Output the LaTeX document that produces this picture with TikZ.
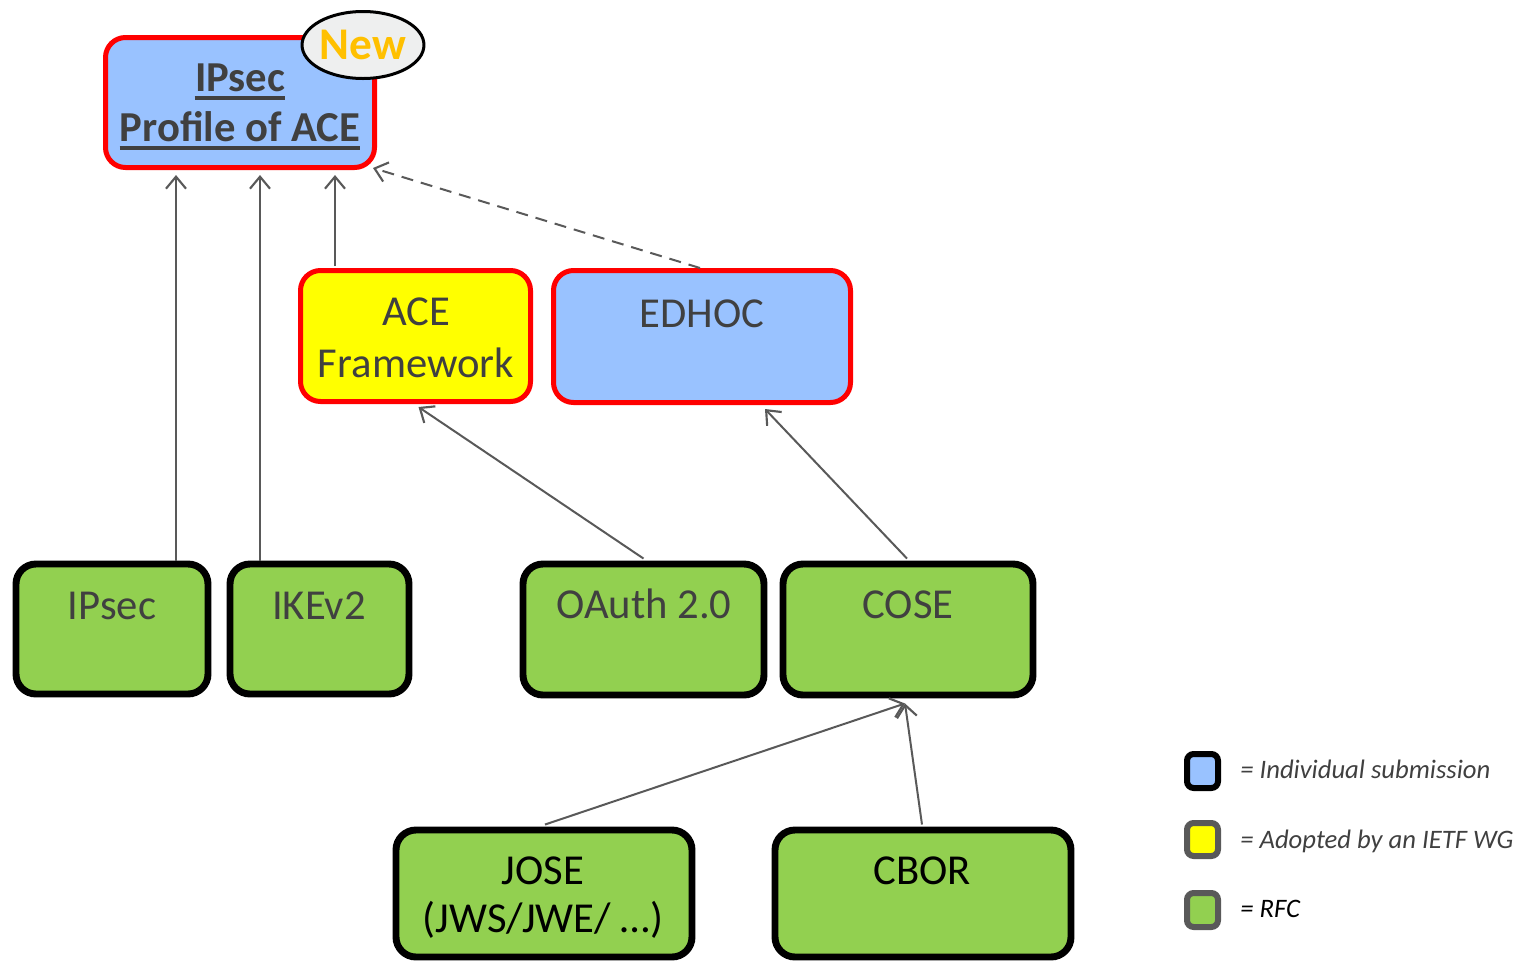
\documentclass[tikz,border=0pt]{standalone}
\usepackage{fontspec}
\setmainfont{Carlito}
\usetikzlibrary{arrows.meta,fit,shapes.geometric,calc}
\definecolor{txtgray}{HTML}{404040}
\definecolor{arrgray}{HTML}{595959}
\definecolor{bluefill}{HTML}{99C2FF}
\definecolor{yellowfill}{HTML}{FFFF00}
\definecolor{greenfill}{HTML}{92D050}
\definecolor{redline}{HTML}{FF0000}
\definecolor{newfill}{HTML}{EEEFEF}
\definecolor{neworange}{HTML}{FFC000}
\tikzset{
  box/.style={draw, rounded corners=15pt, inner sep=0pt},
  redbox/.style={box, draw=redline, line width=3.75pt},
  rfcbox/.style={box, draw=black, line width=5.2pt, fill=greenfill},
  lbl/.style={anchor=base, font=\fontsize{32}{38}\selectfont, text=txtgray, inner sep=0pt},
  blbl/.style={lbl, text=black},
  uline/.style={draw=txtgray, line width=3pt},
  dep/.style={draw=arrgray, line width=1.5pt, -{Straight Barb[length=9pt,width=15pt,line width=1.6pt]}},
  legsq/.style={draw, rounded corners=5pt, line width=4.5pt, inner sep=0pt},
  legtxt/.style={anchor=base west, font=\fontsize{20}{24}\selectfont\itshape, text=txtgray, inner sep=0pt}
}
\begin{document}
\begin{tikzpicture}[x=0.75pt,y=-0.75pt]
\useasboundingbox (0,0) rectangle (1529,961);
\clip (0,0) rectangle (1529,961);
% boxes
\node[redbox, fill=bluefill, fit={(105.5,37.5) (374.5,167.5)}] (prof) {};
\node[redbox, fill=yellowfill, fit={(300.5,270.5) (530.5,401.5)}] (ace) {};
\node[redbox, fill=bluefill, fit={(553.5,270.5) (850.5,402.5)}] (edhoc) {};
\node[rfcbox, fit={(16,564) (208,694)}] (ipsec) {};
\node[rfcbox, fit={(230,564) (409,694)}] (ikev) {};
\node[rfcbox, fit={(523,564) (764,695)}] (oauth) {};
\node[rfcbox, fit={(783,564) (1033,695)}] (cose) {};
\node[rfcbox, fit={(396,830) (692,957)}] (jose) {};
\node[rfcbox, fit={(775,830) (1071,957)}] (cbor) {};
% new badge
\node[ellipse, draw=black, line width=2.25pt, fill=newfill, minimum width=89.25pt, minimum height=50.25pt, inner sep=0pt,
      text=neworange, font=\fontsize{34}{40}\selectfont\bfseries] (new) at (363,45) {New};
% labels
\node[lbl, font=\fontsize{32}{38}\selectfont\bfseries] (t1) at (240,91) {IPsec};
\node[lbl, font=\fontsize{32}{38}\selectfont\bfseries] (t2) at (240,141) {Profile of ACE};
\draw[uline] ($(t1.base west)+(0,7)$) -- ($(t1.base east)+(0,7)$);
\draw[uline] ($(t2.base west)+(0,7)$) -- ($(t2.base east)+(0,7)$);
\node[lbl] (t3) at (416,325) {ACE};
\node[lbl] (t4) at (416,377) {Framework};
\node[lbl] (t5) at (702,327) {EDHOC};
\node[lbl] (t6) at (112,619) {IPsec};
\node[lbl] (t7) at (319,619) {IKEv2};
\node[lbl] (t8) at (644,618) {OAuth 2.0};
\node[lbl] (t9) at (908,618) {COSE};
\node[blbl] (t10) at (543,884) {JOSE};
\node[blbl] (t11) at (543,932) {(JWS/JWE/ …)};
\node[blbl] (t12) at (922,884) {CBOR};
% connectors
\draw[dep] ($(ipsec.north)+(64,0)$) -- ($(prof.south)+(-64,5)$);
\draw[dep] ($(ikev.north)+(-59.5,0)$) -- ($(prof.south)+(20,5)$);
\draw[dep] ($(ace.north)+(-80.5,-2)$) -- ($(prof.south)+(95,5)$);
\draw[dep, dash pattern=on 9pt off 6pt] ($(edhoc.north)+(-2,0)$) -- ($(prof.south east)+(-4,-2)$);
\draw[dep] ($(oauth.north)+(0,-2)$) -- ($(ace.south)+(3,3)$);
\draw[dep] ($(cose.north)+(-1,-2)$) -- ($(edhoc.south)+(63,4)$);
\draw[dep] ($(jose.north)+(1,-2)$) -- ($(cose.south)+(-3,5)$);
\draw[dep] ($(cbor.north)+(-1,-2)$) -- ($(cose.south)+(-3,5)$);
% legend
\node[legsq, draw=black, fill=bluefill, fit={(1187,754) (1218,788)}] (lg1) {};
\node[legsq, draw=arrgray, fill=yellowfill, fit={(1187,823) (1218,856)}] (lg2) {};
\node[legsq, draw=arrgray, fill=greenfill, fit={(1187,893) (1218,927)}] (lg3) {};
\node[legtxt] (lt1) at (1240,778) {= Individual submission};
\node[legtxt] (lt2) at (1240,848) {= Adopted by an IETF WG};
\node[legtxt, text=black] (lt3) at (1240,917) {= RFC};
\end{tikzpicture}
\end{document}
